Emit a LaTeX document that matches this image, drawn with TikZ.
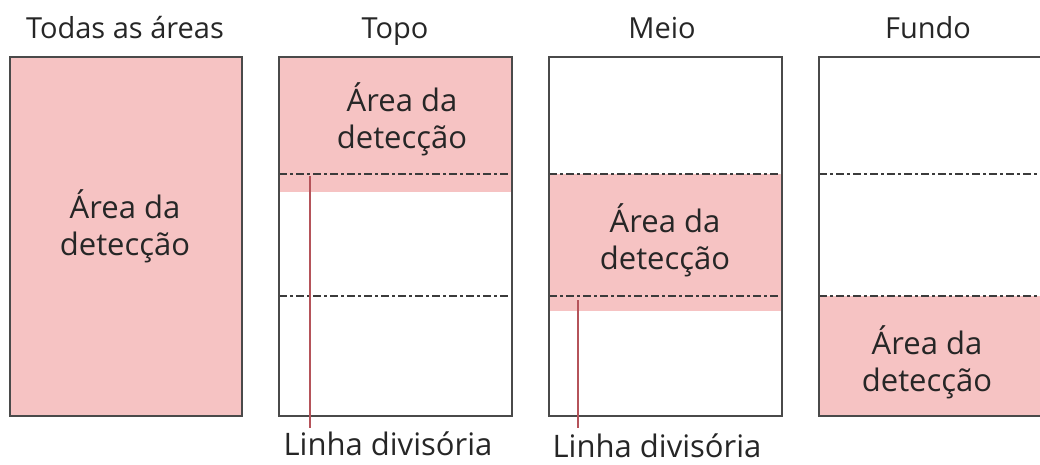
\documentclass[tikz,border=0pt]{standalone}
\usepackage{fontspec}
\setmainfont{Open Sans}
\definecolor{pinkfill}{HTML}{F6C3C3}
\definecolor{boxline}{HTML}{4A4A4A}
\definecolor{redline}{HTML}{B5535A}
\begin{document}
\begin{tikzpicture}[x=1pt,y=-1pt,
  frame/.style={draw=boxline,line width=1.6pt},
  pinkarea/.style={fill=pinkfill,draw=none},
  divline/.style={draw=boxline!80!black,line width=1.5pt,dash pattern=on 8pt off 3pt on 3pt off 3pt},
  redmark/.style={draw=redline,line width=1.5pt},
  lbl/.style={font=\fontsize{31}{37}\selectfont,align=center,text=black!85,inner sep=0pt},
  ttl/.style={font=\fontsize{29}{34}\selectfont,text=black!85,inner sep=0pt,anchor=base},
]
\useasboundingbox (0,0) rectangle (1040,464);
% titles
\node[ttl] (t1) at (125,38) {Todas as áreas};
\node[ttl] (t2) at (395,38) {Topo};
\node[ttl] (t3) at (662,38) {Meio};
\node[ttl] (t4) at (928,38) {Fundo};
% box 1
\fill[pinkarea] (10,57) rectangle (242,416);
\draw[frame] (10,57) rectangle (242,416);
\node[lbl] (a1) at (125,226) {Área da\\detecção};
% box 2
\fill[pinkarea] (279,57) rectangle (512,192);
\draw[divline] (279,174) -- (512,174);
\draw[divline] (279,296) -- (512,296);
\draw[frame] (279,57) rectangle (512,416);
\node[lbl] (a2) at (402,119) {Área da\\detecção};
% box 3
\fill[pinkarea] (549,174) rectangle (782,311);
\draw[divline] (549,174) -- (782,174);
\draw[divline] (549,296) -- (782,296);
\draw[frame] (549,57) rectangle (782,416);
\node[lbl] (a3) at (665,240) {Área da\\detecção};
% box 4
\fill[pinkarea] (819,296) rectangle (1041,416);
\draw[divline] (819,174) -- (1041,174);
\draw[divline] (819,296) -- (1041,296);
\draw[frame] (1041,57) -- (819,57) -- (819,416) -- (1041,416);
\node[lbl] (a4) at (927,362) {Área da\\detecção};
% dividing line labels
\node[lbl,anchor=base] (l1) at (388,455) {Linha divisória};
\node[lbl,anchor=base] (l2) at (657,457) {Linha divisória};
\coordinate (r1a) at (310,176);
\coordinate (r1b) at (310,428);
\coordinate (r2a) at (578,300);
\coordinate (r2b) at (578,428);
\draw[redmark] (r1a) -- (r1b);
\draw[redmark] (r2a) -- (r2b);
\end{tikzpicture}
\end{document}
